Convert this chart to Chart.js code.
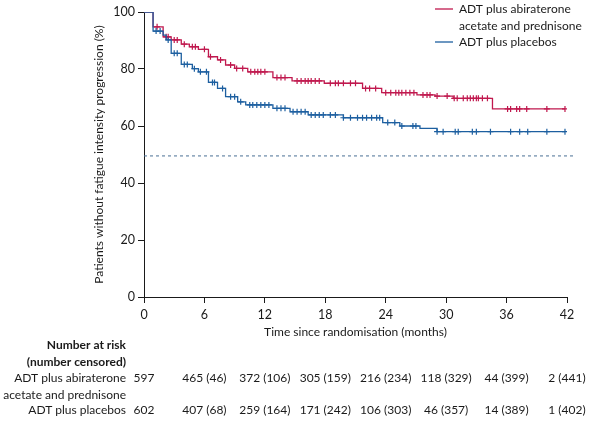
<!DOCTYPE html>
<html>
<head>
<meta charset="utf-8">
<script src="https://cdn.jsdelivr.net/npm/chart.js@4"></script>
<style>
  html, body { margin: 0; padding: 0; background: #fff; }
  #wrap { position: relative; width: 591px; height: 424px; }
</style>
</head>
<body>
<div id="wrap"><canvas id="km"></canvas></div>
<script>
// Kaplan-Meier: fatigue intensity progression

const FONT = "Lato, 'Noto Sans', sans-serif";
const RED = '#C0184E';
const BLUE = '#1D5FA0';

// step curves (time in months, % without progression)
const redTime  = [0, 0.9, 1.9, 2.7, 3.7, 4.5, 5.4, 6.4, 7.3, 8.1, 9.0, 10.3, 12.8, 14.7, 17.9, 21.7, 23.6, 27.1, 28.9, 30.7, 34.6, 41.8];
const redSurv  = [100, 94.8, 91.3, 90.2, 88.7, 87.8, 86.9, 84.3, 83.2, 81.4, 80.2, 79.0, 77.0, 75.8, 75.0, 73.2, 71.7, 70.9, 70.5, 69.7, 66.0, 66.0];
const blueTime = [0, 0.9, 1.9, 2.2, 2.7, 3.7, 4.8, 5.4, 6.4, 7.3, 8.1, 9.3, 10.1, 12.8, 14.5, 16.3, 19.8, 23.7, 25.4, 27.4, 29.1, 41.8];
const blueSurv = [100, 93.3, 91.9, 90.2, 85.5, 81.6, 80.1, 79.0, 75.3, 73.2, 70.3, 68.5, 67.4, 66.2, 65.0, 63.9, 62.9, 61.2, 60.0, 59.2, 58.0, 58.0];

// censoring times
const redCens  = [1.3, 2.2, 2.4, 3.0, 3.3, 4.0, 4.8, 5.1, 6.0, 6.6, 7.6, 8.6, 9.2, 9.8, 10.6, 11.0, 11.3, 11.6, 12.0, 13.2, 13.6, 14.0, 15.2, 15.6, 16.0, 16.3, 16.6, 17.0, 17.4, 18.5, 19.0, 19.3, 19.8, 20.5, 21.0, 22.0, 22.4, 23.0, 24.0, 24.5, 25.0, 25.3, 25.6, 26.0, 26.4, 26.8, 27.7, 28.1, 28.4, 29.1, 30.1, 30.8, 31.1, 31.7, 32.1, 32.4, 32.7, 33.0, 33.2, 33.6, 34.1, 36.1, 36.4, 37.0, 37.3, 38.0, 40.0, 41.8];
const blueCens = [1.2, 1.6, 2.4, 3.0, 3.3, 4.0, 4.3, 5.0, 5.6, 6.2, 6.8, 7.0, 7.8, 8.6, 9.0, 9.6, 10.5, 10.8, 11.2, 11.6, 12.0, 12.4, 13.2, 13.6, 14.0, 14.8, 15.2, 15.6, 16.0, 16.6, 17.0, 17.4, 17.8, 18.5, 19.0, 19.8, 20.5, 21.2, 21.7, 22.1, 22.6, 23.1, 23.4, 24.2, 24.9, 25.6, 26.7, 27.0, 29.1, 29.7, 30.9, 31.2, 32.6, 33.0, 34.4, 36.4, 37.3, 38.1, 40.0, 41.8];

const medianLine = 49.5;
const medianEnd = 42.8;

// number at risk table
const riskTimes = [0, 6, 12, 18, 24, 30, 36, 42];
const riskRed  = ['597', '465 (46)', '372 (106)', '305 (159)', '216 (234)', '118 (329)', '44 (399)', '2 (441)'];
const riskBlue = ['602', '407 (68)', '259 (164)', '171 (242)', '106 (303)', '46 (357)', '14 (389)', '1 (402)'];

function pts(times, vals) {
  return times.map((t, i) => ({ x: t, y: vals[i] }));
}
function levelAt(times, vals, t) {
  let v = vals[0];
  for (let i = 0; i < times.length; i++) if (times[i] <= t) v = vals[i];
  return v;
}
function censPts(cens, times, vals) {
  return cens.map(t => ({ x: t, y: levelAt(times, vals, t) }));
}

const extras = {
  id: 'extras',
  afterDraw(chart) {
    const ctx = chart.ctx;
    const xs = chart.scales.x;
    ctx.save();
    ctx.textBaseline = 'middle';

    // legend
    ctx.lineWidth = 1.3;
    ctx.strokeStyle = RED;
    ctx.beginPath(); ctx.moveTo(435, 9); ctx.lineTo(453, 9); ctx.stroke();
    ctx.strokeStyle = BLUE;
    ctx.beginPath(); ctx.moveTo(435, 42); ctx.lineTo(453, 42); ctx.stroke();
    ctx.fillStyle = '#1a1a1a';
    ctx.font = '12px ' + FONT;
    ctx.textAlign = 'left';
    ctx.fillText('ADT plus abiraterone', 459, 9);
    ctx.fillText('acetate and prednisone', 459, 26);
    ctx.fillText('ADT plus placebos', 459, 42);

    // at-risk labels
    ctx.textAlign = 'right';
    ctx.font = 'bold 12px ' + FONT;
    ctx.fillText('Number at risk', 126, 345);
    ctx.fillText('(number censored)', 126, 362);
    ctx.font = '12px ' + FONT;
    ctx.fillText('ADT plus abiraterone', 126, 378);
    ctx.fillText('acetate and prednisone', 126, 395);
    ctx.fillText('ADT plus placebos', 126, 410);

    ctx.textAlign = 'center';
    riskTimes.forEach((t, i) => {
      const px = xs.getPixelForValue(t);
      ctx.fillText(riskRed[i], px, 378);
      ctx.fillText(riskBlue[i], px, 410);
    });
    ctx.restore();
  }
};

new Chart(document.getElementById('km'), {
  type: 'line',
  data: {
    datasets: [
      {
        data: [{ x: 0, y: medianLine }, { x: medianEnd, y: medianLine }],
        borderColor: '#4a6f94', borderWidth: 1, borderDash: [3, 3],
        pointRadius: 0, clip: false
      },
      {
        data: pts(blueTime, blueSurv), borderColor: BLUE, borderWidth: 1.3,
        stepped: 'before', pointRadius: 0
      },
      {
        data: pts(redTime, redSurv), borderColor: RED, borderWidth: 1.3,
        stepped: 'before', pointRadius: 0
      },
      {
        data: censPts(blueCens, blueTime, blueSurv), showLine: false,
        pointStyle: 'cross', pointRadius: 3, borderColor: BLUE, borderWidth: 1.2
      },
      {
        data: censPts(redCens, redTime, redSurv), showLine: false,
        pointStyle: 'cross', pointRadius: 3, borderColor: RED, borderWidth: 1.2
      }
    ]
  },
  options: {
    responsive: true,
    maintainAspectRatio: false,
    animation: false,
    layout: { padding: { left: 92, right: 24, top: 12, bottom: 0 } },
    plugins: { legend: { display: false }, tooltip: { enabled: false } },
    scales: {
      x: {
        type: 'linear', min: 0, max: 42,
        afterFit(s) { s.height = 127; },
        ticks: { stepSize: 6, color: '#1a1a1a', font: { family: FONT, size: 12.5 }, padding: 4, maxRotation: 0 },
        grid: { display: true, drawOnChartArea: false, drawTicks: true, tickLength: 6, color: '#1a1a1a' },
        border: { color: '#1a1a1a', width: 1 },
        title: { display: true, text: 'Time since randomisation (months)', color: '#1a1a1a',
                 font: { family: FONT, size: 12 }, padding: { top: 0, bottom: 85 } }
      },
      y: {
        min: 0, max: 100,
        afterFit(s) { s.width = 52; },
        ticks: { stepSize: 20, color: '#1a1a1a', font: { family: FONT, size: 12.5 }, padding: 3 },
        grid: { display: true, drawOnChartArea: false, drawTicks: true, tickLength: 6, color: '#1a1a1a' },
        border: { color: '#1a1a1a', width: 1 },
        title: { display: true, text: 'Patients without fatigue intensity progression (%)', color: '#1a1a1a',
                 font: { family: FONT, size: 12 }, padding: { top: 0, bottom: 0 } }
      }
    }
  },
  plugins: [extras]
});
</script>
</body>
</html>
